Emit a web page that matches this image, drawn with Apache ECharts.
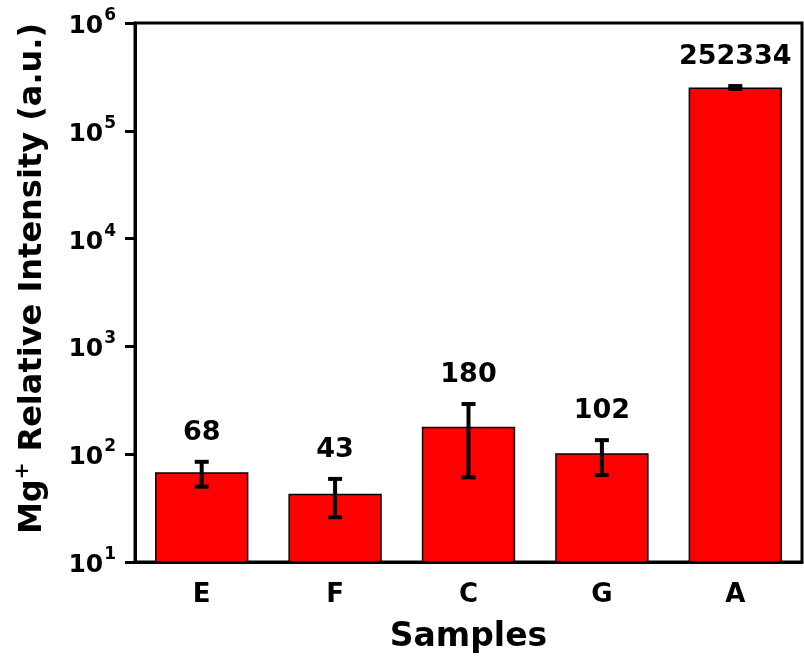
<!DOCTYPE html>
<html><head><meta charset="utf-8">
<script src="https://cdn.jsdelivr.net/npm/echarts@6/dist/echarts.min.js"></script>
<style>html,body{margin:0;padding:0;background:#fff}#c{width:804px;height:660px}</style>
</head><body><div id="c"></div>
<script>
const categories = ['E', 'F', 'C', 'G', 'A'];
const values = [68, 43, 180, 102, 252334];
const errUpper = [85, 59, 292, 135, 260000];
const errLower = [50, 26, 61, 64, 245000];
const yMin = 10, yMax = 1000000;

const FONT = '"DejaVu Sans", Verdana, sans-serif';
const chart = echarts.init(document.getElementById('c'));
chart.setOption({
  animation: false,
  grid: { left: 135, right: 2, top: 23, bottom: 98, containLabel: false, outerBoundsMode: 'none',
    show: true, borderColor: '#000', borderWidth: 3, backgroundColor: 'transparent' },
  xAxis: {
    type: 'category', data: categories,
    axisLine: { lineStyle: { color: '#000', width: 3 } },
    axisTick: { alignWithLabel: true, length: 9, lineStyle: { color: '#000', width: 3 } },
    axisLabel: { color: '#000', fontFamily: FONT, fontWeight: 'bold', fontSize: 26, margin: 20 },
    name: 'Samples', nameLocation: 'middle', nameGap: 59,
    nameTextStyle: { color: '#000', fontFamily: FONT, fontWeight: 'bold', fontSize: 33 }
  },
  yAxis: {
    type: 'log', logBase: 10, min: yMin, max: yMax, interval: 1,
    axisLine: { show: true, lineStyle: { color: '#000', width: 3 } },
    axisTick: { show: true, length: 10, lineStyle: { color: '#000', width: 3 } },
    minorTick: { show: false },
    splitLine: { show: false },
    axisLabel: {
      margin: 19,
      formatter: function (v) { return '{b|10}{s|' + Math.round(Math.log10(v)) + '}'; },
      rich: {
        b: { color: '#000', fontFamily: FONT, fontWeight: 'bold', fontSize: 25, lineHeight: 32, verticalAlign: 'bottom' },
        s: { color: '#000', fontFamily: FONT, fontWeight: 'bold', fontSize: 17, lineHeight: 32, verticalAlign: 'top', padding: [0, 0, 0, 1] }
      }
    },
    name: '{t|Mg}{s|+}{t| Relative Intensity (a.u.)}',
    nameLocation: 'middle', nameGap: 86, nameRotate: 90,
    nameTextStyle: {
      padding: [0, 0, 0, 28],
      rich: {
        t: { color: '#000', fontFamily: FONT, fontWeight: 'bold', fontSize: 32, lineHeight: 36, verticalAlign: 'bottom' },
        s: { color: '#000', fontFamily: FONT, fontWeight: 'bold', fontSize: 20, lineHeight: 36, verticalAlign: 'top' }
      }
    }
  },
  series: [
    {
      type: 'bar', data: values, barWidth: '70%',
      itemStyle: { color: '#ff0000', borderColor: '#000', borderWidth: 1.5 },
      z: 2
    },
    {
      type: 'custom', z: 5,
      data: categories.map((c, i) => [i, errLower[i], errUpper[i], values[i]]),
      renderItem: function (params, api) {
        const x = api.coord([api.value(0), api.value(1)])[0];
        const yl = api.coord([api.value(0), api.value(1)])[1];
        const yu = api.coord([api.value(0), api.value(2)])[1];
        const hw = 7;
        const st = { stroke: '#000', lineWidth: 4 };
        return {
          type: 'group',
          children: [
            { type: 'line', shape: { x1: x, y1: yu, x2: x, y2: yl }, style: st },
            { type: 'line', shape: { x1: x - hw, y1: yu, x2: x + hw, y2: yu }, style: st },
            { type: 'line', shape: { x1: x - hw, y1: yl, x2: x + hw, y2: yl }, style: st },
            { type: 'text', style: { x: x, y: yu - 29, text: String(api.value(3)), fill: '#000',
              font: 'bold 27px ' + FONT, textAlign: 'center', textVerticalAlign: 'middle' } }
          ]
        };
      }
    }
  ]
});
</script></body></html>
